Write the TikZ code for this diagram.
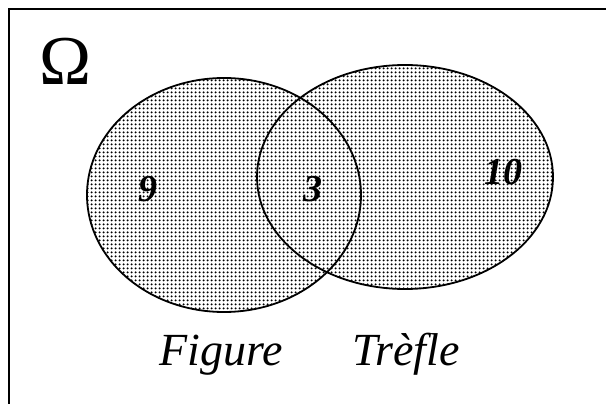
\documentclass[tikz,border=0pt]{standalone}
\usepackage{fontspec}
\setmainfont{Liberation Serif}
\usetikzlibrary{patterns.meta}

\tikzdeclarepattern{
  name=halftone,
  tile size={(3.6pt,3.6pt)},
  bounding box={(0pt,0pt) and (3.6pt,3.6pt)},
  code={\fill (1.8pt,1.8pt) circle (1.15pt);}
}

\begin{document}
\begin{tikzpicture}[
  x=1pt, y=-1pt,
  setline/.style={draw=black, line width=1.8pt},
  setfill/.style={pattern=halftone},
  count/.style={font=\bfseries\itshape\fontsize{38}{38}\selectfont},
  setname/.style={font=\itshape\fontsize{46}{46}\selectfont, anchor=base}
]
  \useasboundingbox (0,0) rectangle (606,404);
  \draw[line width=1.8pt] (9,404) -- (9,9) -- (606,9);

  \coordinate (figure) at (224,195);
  \coordinate (trefle) at (405,177);

  % hatched union first, outlines on top
  \fill[setfill] (figure) ellipse [x radius=137pt, y radius=117pt]
                 (trefle) ellipse [x radius=148pt, y radius=112pt];
  \draw[setline] (figure) ellipse [x radius=137pt, y radius=117pt];
  \draw[setline] (trefle) ellipse [x radius=148pt, y radius=112pt];

  \node (omega) at (66,61) {\fontsize{70}{70}\selectfont Ω};
  \node[count] (n9) at (148,189) {9};
  \node[count] (n3) at (313,189) {3};
  \node[count] (n10) at (503,172) {10};
  \node[setname] (figname) at (221,365) {Figure};
  \node[setname] (trename) at (406,365) {Trèfle};
\end{tikzpicture}
\end{document}
